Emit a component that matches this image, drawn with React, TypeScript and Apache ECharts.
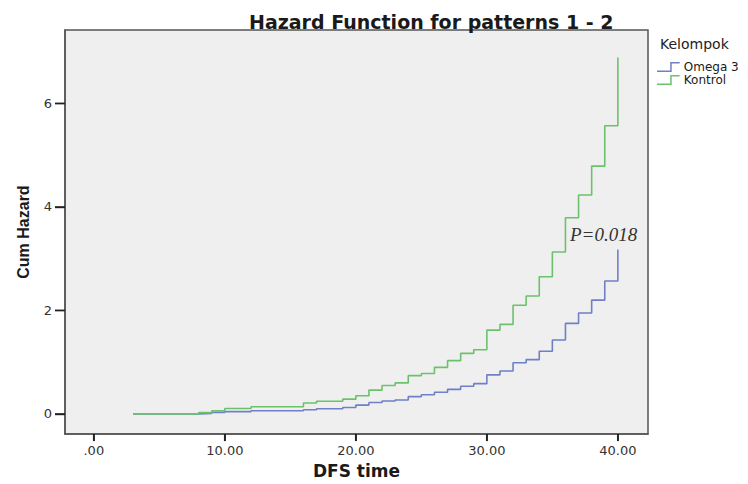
import React, { useEffect, useRef } from "react";
import * as echarts from "echarts";

const titleText = "Hazard Function for patterns 1 - 2";
const xName = "DFS time";
const yName = "Cum Hazard";
const legendTitle = "Kelompok";
const seriesNames = ["Omega 3", "Kontrol"];
const pLabel = "P=0.018";

const times = [3, 8, 9, 10, 12, 16, 17, 19, 20, 21, 22, 23, 24, 25, 26, 27, 28, 29, 30, 31, 32, 33, 34, 35, 36, 37, 38, 39, 40];
const omega = [0, 0.01, 0.03, 0.045, 0.06, 0.08, 0.1, 0.125, 0.17, 0.22, 0.25, 0.27, 0.335, 0.37, 0.42, 0.475, 0.535, 0.585, 0.755, 0.83, 0.99, 1.05, 1.21, 1.43, 1.75, 1.95, 2.2, 2.57, 3.18];
const kontrol = [0, 0.025, 0.06, 0.105, 0.14, 0.21, 0.245, 0.285, 0.35, 0.46, 0.55, 0.6, 0.74, 0.78, 0.9, 1.03, 1.17, 1.24, 1.62, 1.73, 2.1, 2.28, 2.65, 3.13, 3.79, 4.23, 4.79, 5.57, 6.89];

const xTicks = [0, 10, 20, 30, 40];
const yTicks = [0, 2, 4, 6];
const xMin = -2.2;
const xMax = 42.3;
const yMin = -0.39;
const yMax = 7.42;

const colors = ["#6f80c6", "#6cc26c"];
const stepIcon = "path://M0,9 L14,9 L14,0 L24,0 L24,1.6 L15.6,1.6 L15.6,10.6 L0,10.6 Z";

export default function App() {
  const ref = useRef<HTMLDivElement>(null);
  useEffect(() => {
    if (!ref.current) return;
    const chart = echarts.init(ref.current, null, { renderer: "svg" });
    const seriesData = [omega, kontrol];
    const baseGraphic: any[] = [
      {
        type: "text",
        left: 660,
        top: 37,
        style: { text: legendTitle, fontFamily: "DejaVu Sans", fontSize: 14, fill: "#222" },
      },
      {
        type: "text",
        left: 570,
        top: 225,
        style: { text: pLabel, fontFamily: "Liberation Serif", fontStyle: "italic", fontSize: 19, fill: "#333" },
      },
    ];
    chart.setOption({
      animation: false,
      backgroundColor: "#ffffff",
      textStyle: { fontFamily: "DejaVu Sans" },
      title: {
        text: titleText,
        left: 244,
        top: 7,
        textStyle: { fontFamily: "DejaVu Sans", fontWeight: "bold", fontSize: 19, color: "#1a1a1a" },
      },
      legend: {
        data: seriesNames.map((n) => ({ name: n, icon: stepIcon })),
        orient: "vertical",
        left: 652,
        top: 56,
        itemWidth: 29,
        itemHeight: 10,
        itemGap: 1,
        textStyle: { fontSize: 12, color: "#1a1a1a", padding: [0, 0, 0, -4] },
      },
      grid: {
        left: 65,
        right: 100,
        top: 30,
        bottom: 47,
        show: true,
        backgroundColor: "#efefef",
        borderColor: "#555",
        borderWidth: 1.5,
      },
      xAxis: {
        type: "value",
        min: xMin,
        max: xMax,
        name: xName,
        nameLocation: "middle",
        nameGap: 22,
        nameTextStyle: { fontFamily: "DejaVu Sans", fontWeight: "bold", fontSize: 17, color: "#1a1a1a" },
        splitLine: { show: false },
        axisLine: { show: true, onZero: false, lineStyle: { color: "#555", width: 1.5 } },
        axisTick: { show: true, customValues: xTicks, length: 7, lineStyle: { color: "#222", width: 1.6 } },
        axisLabel: {
          customValues: xTicks,
          margin: 10,
          fontSize: 13,
          color: "#333",
          formatter: (v: number) => (v === 0 ? ".00" : v.toFixed(2)),
        },
      },
      yAxis: {
        type: "value",
        min: yMin,
        max: yMax,
        name: yName,
        nameLocation: "middle",
        nameGap: 34,
        nameRotate: 90,
        nameTextStyle: { fontFamily: "Liberation Sans", fontWeight: "bold", fontSize: 16, color: "#1a1a1a" },
        splitLine: { show: false },
        axisLine: { show: true, onZero: false, lineStyle: { color: "#555", width: 1.5 } },
        axisTick: { show: true, customValues: yTicks, length: 10, lineStyle: { color: "#222", width: 1.4 } },
        axisLabel: { customValues: yTicks, margin: 13, fontSize: 13, color: "#333" },
      },
      graphic: baseGraphic,
      series: seriesNames.map((name, i) => ({
        name,
        type: "line",
        step: "end",
        showSymbol: false,
        symbol: "none",
        color: colors[i],
        lineStyle: { width: 1.6, color: colors[i] },
        data: times.map((t, j) => [t, seriesData[i][j]]),
      })),
    });
    const tickMarks: any[] = [];
    yTicks.forEach((v) => {
      const p = chart.convertToPixel({ seriesIndex: 0 }, [xMin, v]) as number[];
      if (p && isFinite(p[0]) && isFinite(p[1])) {
        tickMarks.push({
          type: "rect",
          silent: true,
          z: 100,
          shape: { x: p[0] - 10, y: p[1] - 0.75, width: 10, height: 1.5 },
          style: { fill: "#222" },
        });
      }
    });
    xTicks.forEach((v) => {
      const p = chart.convertToPixel({ seriesIndex: 0 }, [v, yMin]) as number[];
      if (p && isFinite(p[0]) && isFinite(p[1])) {
        tickMarks.push({
          type: "rect",
          silent: true,
          z: 100,
          shape: { x: p[0] - 0.9, y: p[1], width: 1.8, height: 7 },
          style: { fill: "#222" },
        });
      }
    });
    chart.setOption({ graphic: [...baseGraphic, ...tickMarks] }, { replaceMerge: ["graphic"] });
    return () => chart.dispose();
  }, []);
  return <div ref={ref} style={{ width: 748, height: 484, position: "absolute", left: 0, top: 0 }} />;
}
